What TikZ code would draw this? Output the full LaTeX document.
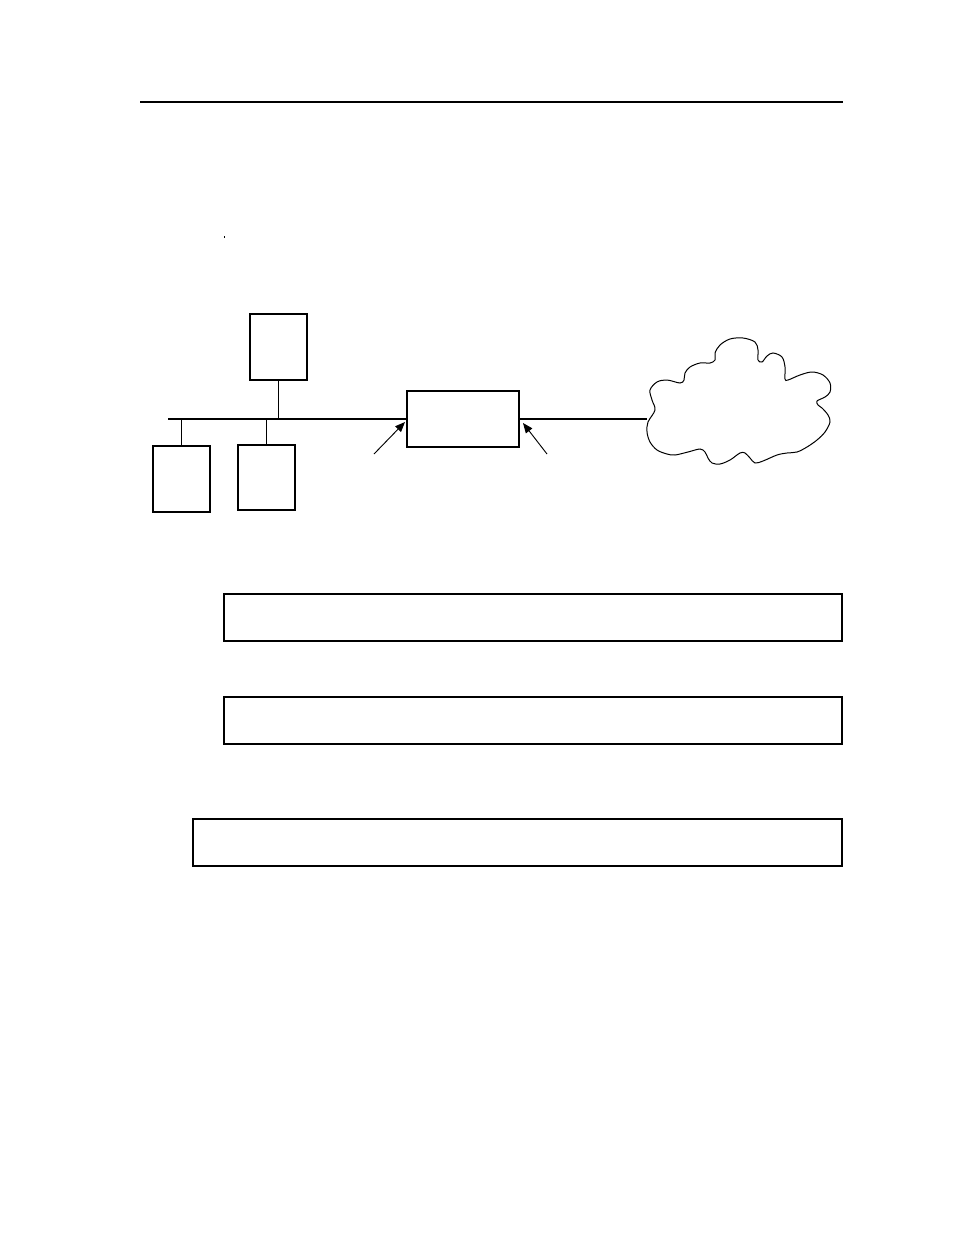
\documentclass[tikz,border=0pt]{standalone}
\usetikzlibrary{arrows.meta,calc}
\newlength\pxu
\setlength\pxu{0.75pt}
\begin{document}
\begin{tikzpicture}[x=0.75pt,y=-0.75pt,
  box/.style={draw,line width=1.4\pxu,rectangle,inner sep=0pt,outer sep=0pt},
  wire/.style={line width=1.4\pxu},
  arr/.style={line width=0.7pt,-{Triangle[length=7.5pt,width=6pt]}},
  cloudline/.style={line width=1\pxu}]
\useasboundingbox (0,0) rectangle (954,1235);
\fill[white] (0,0) rectangle (954,1235);
% header rule
\coordinate (ruleL) at (140,102);
\coordinate (ruleR) at (843,102);
\draw[line width=1.5\pxu] (ruleL) -- (ruleR);
% tiny mark
\node[fill=black,inner sep=0pt,minimum width=1.2\pxu,minimum height=2\pxu] (dot) at (224.5,236.5) {};
% hosts
\node[box,minimum width=57\pxu,minimum height=66\pxu] (top) at (278.5,347) {};
\node[box,minimum width=57\pxu,minimum height=66\pxu] (left) at (181.5,479) {};
\node[box,minimum width=57\pxu,minimum height=65\pxu] (mid) at (266.5,477.5) {};
% router
\node[box,minimum width=112\pxu,minimum height=56\pxu] (router) at (463,419) {};
% bus
\coordinate (busL) at (168,419);
\draw[wire] (busL) -- (router.west);
\draw[wire] (top.south) -- (top.south |- router.west);
\draw[wire] (left.north) -- (left.north |- router.west);
\draw[wire] (mid.north) -- (mid.north |- router.west);
% cloud
\coordinate (cloudL) at (647,419);
\draw[wire] (router.east) -- (cloudL);
\draw[cloudline] plot[smooth cycle,tension=0.55] coordinates {
(647,432) (648,422) (655,410) (652,400) (650,390) (657,382) (667,380) (680,383)
(684,380) (685,373) (690,367) (700,363) (710,363) (715,360) (715,353) (720,345)
(730,339) (743,338) (755,342) (758,350) (758,360) (762,362) (767,356) (773,353)
(782,357) (785,367) (785,379) (788,380) (800,375) (812,372) (823,375) (830,383)
(830,392) (825,397) (817,401) (818,405) (822,408) (828,415) (830,422) (825,432)
(817,440) (807,447) (797,452) (787,453) (777,455) (763,461) (755,463) (750,458)
(745,453) (740,453) (730,460) (720,464) (712,463) (708,458) (705,452) (700,449)
(688,452) (675,455) (667,454) (657,450) (650,442)};
% arrows
\coordinate (a1) at (374,454);
\coordinate (a2) at (547,454);
\draw[arr] (a1) -- ($(router.west)+(-2,3)$);
\draw[arr] (a2) -- ($(router.east)+(4,4)$);
% text boxes
\node[box,minimum width=618\pxu,minimum height=47\pxu] (b1) at (533,617.5) {};
\node[box,minimum width=618\pxu,minimum height=47\pxu] (b2) at (533,720.5) {};
\node[box,minimum width=649\pxu,minimum height=47\pxu] (b3) at (517.5,842.5) {};
\end{tikzpicture}
\end{document}
